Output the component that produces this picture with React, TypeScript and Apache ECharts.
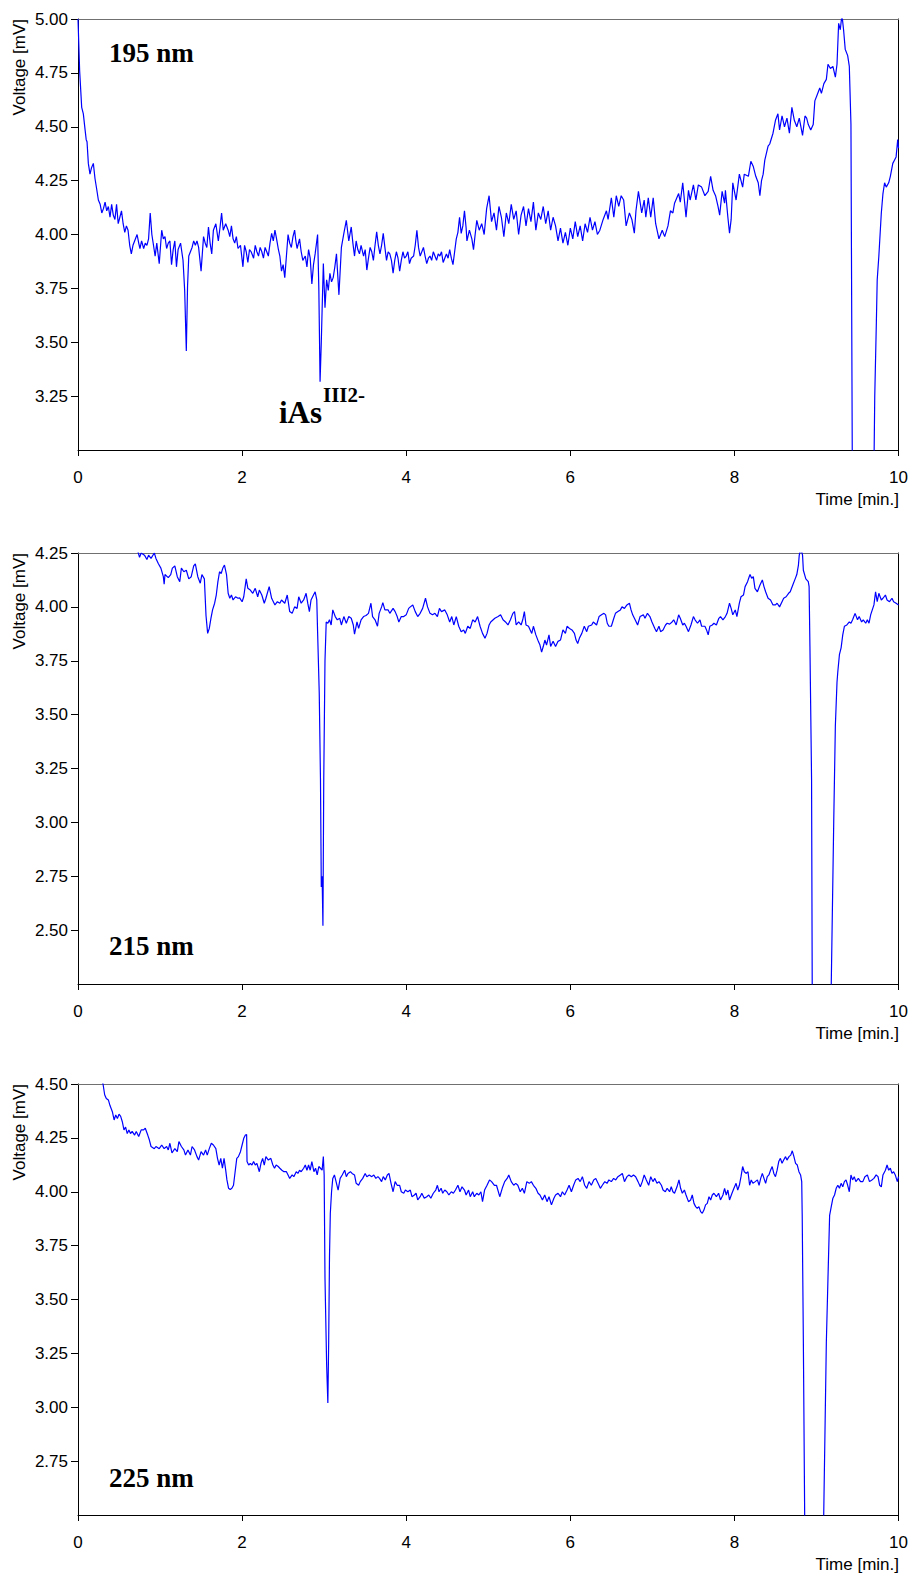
import React, { useEffect, useRef } from "react";
import * as echarts from "echarts";

// ---- Data (time [min], voltage [mV]) ----
const trace195: [number, number][] = [
  [0, 5.0], [0.02, 4.76], [0.045, 4.59], [0.065, 4.56], [0.085, 4.49], [0.1, 4.44], [0.11, 4.43], [0.126, 4.33],
  [0.146, 4.28], [0.165, 4.31], [0.187, 4.33], [0.207, 4.26], [0.228, 4.21], [0.248, 4.16], [0.27, 4.14], [0.29, 4.1],
  [0.31, 4.12], [0.33, 4.15], [0.35, 4.11], [0.37, 4.13], [0.39, 4.08], [0.41, 4.14], [0.43, 4.09], [0.45, 4.07],
  [0.47, 4.14], [0.49, 4.05], [0.51, 4.08], [0.53, 4.11], [0.55, 4.05], [0.57, 4.01], [0.59, 4.04], [0.61, 4.02],
  [0.63, 3.95], [0.65, 3.91], [0.67, 3.95], [0.69, 3.97], [0.72, 4.0], [0.74, 3.96], [0.755, 3.935], [0.775, 3.97],
  [0.8, 3.935], [0.82, 3.96], [0.84, 3.95], [0.86, 3.98], [0.88, 4.1], [0.9, 4.0], [0.92, 3.95], [0.94, 3.9],
  [0.96, 3.96], [0.99, 3.865], [1.02, 4.02], [1.04, 3.98], [1.06, 3.99], [1.08, 3.935], [1.1, 3.96], [1.12, 3.97],
  [1.14, 3.86], [1.16, 3.93], [1.18, 3.97], [1.2, 3.85], [1.22, 3.93], [1.25, 3.96], [1.28, 3.88], [1.3, 3.74],
  [1.32, 3.46], [1.335, 3.76], [1.35, 3.9], [1.37, 3.92], [1.39, 3.94], [1.41, 3.97], [1.43, 3.95], [1.45, 3.97],
  [1.47, 3.94], [1.5, 3.83], [1.53, 3.99], [1.55, 3.96], [1.57, 3.94], [1.59, 4.035], [1.61, 3.96], [1.63, 3.91],
  [1.65, 4.02], [1.68, 4.05], [1.71, 3.97], [1.73, 4.03], [1.75, 4.1], [1.77, 4.02], [1.8, 4.05], [1.83, 4.02],
  [1.85, 3.99], [1.87, 4.04], [1.89, 3.98], [1.91, 3.96], [1.93, 3.99], [1.95, 3.935], [1.98, 3.95], [2.01, 3.85],
  [2.03, 3.95], [2.05, 3.92], [2.07, 3.87], [2.09, 3.93], [2.11, 3.92], [2.14, 3.89], [2.16, 3.95], [2.18, 3.92],
  [2.2, 3.9], [2.22, 3.94], [2.24, 3.92], [2.26, 3.89], [2.28, 3.94], [2.3, 3.92], [2.32, 3.9], [2.34, 3.96],
  [2.36, 4.005], [2.38, 3.97], [2.4, 4.02], [2.42, 3.98], [2.44, 3.935], [2.46, 3.9], [2.48, 3.83], [2.5, 3.86],
  [2.52, 3.8], [2.54, 3.9], [2.56, 4.0], [2.58, 3.96], [2.6, 3.94], [2.62, 3.99], [2.64, 4.02], [2.655, 3.97],
  [2.67, 3.935], [2.7, 3.98], [2.72, 3.92], [2.74, 3.88], [2.77, 3.9], [2.79, 3.85], [2.81, 3.93], [2.83, 3.89],
  [2.85, 3.77], [2.87, 3.86], [2.89, 3.91], [2.92, 4.0], [2.935, 3.75], [2.95, 3.317], [2.965, 3.5], [2.975, 3.65],
  [2.99, 3.865], [3.01, 3.66], [3.03, 3.79], [3.05, 3.74], [3.07, 3.82], [3.09, 3.78], [3.11, 3.8], [3.13, 3.85],
  [3.15, 3.91], [3.18, 3.72], [3.21, 3.94], [3.24, 4.005], [3.27, 4.066], [3.3, 3.97], [3.33, 4.035], [3.35, 3.96],
  [3.37, 3.9], [3.39, 3.97], [3.41, 3.93], [3.43, 3.91], [3.45, 3.95], [3.48, 3.9], [3.5, 3.93], [3.52, 3.835],
  [3.54, 3.89], [3.56, 3.94], [3.58, 3.92], [3.6, 3.88], [3.62, 3.95], [3.64, 4.012], [3.66, 3.95], [3.68, 3.91],
  [3.7, 3.95], [3.72, 4.005], [3.74, 3.94], [3.76, 3.88], [3.78, 3.92], [3.8, 3.91], [3.82, 3.88], [3.84, 3.82],
  [3.86, 3.88], [3.88, 3.92], [3.9, 3.89], [3.92, 3.83], [3.94, 3.88], [3.96, 3.92], [3.98, 3.89], [4.0, 3.9],
  [4.02, 3.92], [4.04, 3.865], [4.06, 3.89], [4.09, 3.9], [4.11, 3.95], [4.13, 4.02], [4.15, 3.94], [4.17, 3.9],
  [4.19, 3.92], [4.21, 3.94], [4.23, 3.9], [4.25, 3.865], [4.27, 3.89], [4.29, 3.9], [4.31, 3.88], [4.33, 3.92],
  [4.35, 3.9], [4.37, 3.88], [4.39, 3.91], [4.41, 3.9], [4.43, 3.92], [4.45, 3.87], [4.47, 3.89], [4.49, 3.91],
  [4.51, 3.89], [4.53, 3.93], [4.55, 3.89], [4.57, 3.86], [4.59, 3.92], [4.61, 3.98], [4.63, 4.01], [4.65, 4.08],
  [4.67, 4.005], [4.69, 4.04], [4.71, 4.11], [4.73, 4.03], [4.74, 3.97], [4.77, 4.02], [4.8, 3.98], [4.82, 3.93],
  [4.84, 4.0], [4.86, 4.066], [4.89, 4.02], [4.92, 4.05], [4.95, 4.0], [4.98, 4.12], [5.01, 4.18], [5.04, 4.06],
  [5.07, 4.1], [5.1, 4.02], [5.13, 4.13], [5.16, 4.08], [5.19, 3.99], [5.22, 4.1], [5.25, 4.05], [5.28, 4.14],
  [5.31, 4.07], [5.34, 4.11], [5.37, 4.0], [5.4, 4.09], [5.43, 4.13], [5.46, 4.04], [5.49, 4.12], [5.52, 4.06],
  [5.55, 4.15], [5.58, 4.02], [5.61, 4.1], [5.64, 4.07], [5.67, 4.13], [5.7, 4.05], [5.73, 4.11], [5.76, 4.02],
  [5.79, 4.08], [5.82, 4.04], [5.85, 3.97], [5.88, 4.03], [5.91, 3.96], [5.94, 4.01], [5.97, 3.95], [6.0, 4.03],
  [6.03, 3.98], [6.06, 4.06], [6.09, 3.99], [6.12, 4.04], [6.15, 3.97], [6.18, 4.05], [6.21, 4.01], [6.24, 4.08],
  [6.27, 4.02], [6.3, 4.06], [6.33, 4.0], [6.36, 4.02], [6.4, 4.07], [6.44, 4.11], [6.46, 4.07], [6.5, 4.17],
  [6.53, 4.08], [6.56, 4.18], [6.59, 4.13], [6.62, 4.18], [6.65, 4.16], [6.68, 4.04], [6.72, 4.1], [6.75, 4.07],
  [6.78, 4.006], [6.8, 4.11], [6.83, 4.2], [6.87, 4.1], [6.9, 4.16], [6.92, 4.08], [6.95, 4.17], [6.98, 4.08],
  [7.01, 4.17], [7.04, 4.05], [7.08, 3.98], [7.12, 4.02], [7.15, 3.99], [7.19, 4.04], [7.22, 4.11], [7.25, 4.1],
  [7.27, 4.145], [7.32, 4.19], [7.34, 4.15], [7.37, 4.24], [7.41, 4.08], [7.44, 4.205], [7.46, 4.16], [7.5, 4.23],
  [7.53, 4.16], [7.56, 4.23], [7.6, 4.22], [7.64, 4.18], [7.68, 4.2], [7.71, 4.27], [7.74, 4.205], [7.77, 4.18],
  [7.8, 4.13], [7.82, 4.09], [7.85, 4.2], [7.88, 4.145], [7.89, 4.205], [7.92, 4.08], [7.94, 4.006], [7.96, 4.07],
  [7.98, 4.24], [8.02, 4.16], [8.06, 4.28], [8.1, 4.22], [8.12, 4.28], [8.17, 4.27], [8.2, 4.34], [8.23, 4.315],
  [8.26, 4.27], [8.29, 4.24], [8.31, 4.18], [8.33, 4.25], [8.35, 4.28], [8.37, 4.345], [8.41, 4.41], [8.43, 4.42],
  [8.47, 4.47], [8.5, 4.53], [8.53, 4.56], [8.55, 4.485], [8.58, 4.55], [8.61, 4.5], [8.64, 4.54], [8.67, 4.47],
  [8.7, 4.59], [8.73, 4.53], [8.76, 4.5], [8.79, 4.54], [8.83, 4.46], [8.86, 4.55], [8.88, 4.54], [8.9, 4.51],
  [8.93, 4.485], [8.96, 4.51], [8.98, 4.62], [9.01, 4.65], [9.04, 4.68], [9.06, 4.655], [9.09, 4.7], [9.12, 4.72],
  [9.14, 4.79], [9.17, 4.77], [9.2, 4.78], [9.23, 4.73], [9.25, 4.79], [9.27, 4.98], [9.29, 4.95], [9.31, 5.02],
  [9.33, 4.95], [9.35, 4.86], [9.38, 4.83], [9.4, 4.78], [9.42, 4.51], [9.44, 2.6], [9.68, 2.6], [9.7, 2.9],
  [9.71, 3.25], [9.73, 3.6], [9.74, 3.79], [9.76, 3.9], [9.79, 4.1], [9.81, 4.19], [9.83, 4.24], [9.85, 4.22],
  [9.88, 4.24], [9.9, 4.27], [9.93, 4.33], [9.95, 4.345], [9.97, 4.36], [9.99, 4.44], [10.0, 4.4],
];

const trace215: [number, number][] = [
  [0, 4.8], [0.2, 4.6], [0.4, 4.45], [0.6, 4.33], [0.72, 4.27], [0.75, 4.23], [0.77, 4.25], [0.81, 4.24],
  [0.84, 4.22], [0.86, 4.24], [0.89, 4.225], [0.93, 4.25], [0.95, 4.225], [0.98, 4.2], [1.01, 4.18], [1.04, 4.14],
  [1.05, 4.105], [1.06, 4.15], [1.1, 4.136], [1.13, 4.15], [1.15, 4.18], [1.18, 4.19], [1.21, 4.14], [1.24, 4.117],
  [1.26, 4.18], [1.29, 4.163], [1.32, 4.17], [1.35, 4.13], [1.38, 4.14], [1.41, 4.19], [1.43, 4.2], [1.46, 4.14],
  [1.49, 4.11], [1.51, 4.15], [1.54, 4.13], [1.56, 3.96], [1.58, 3.877], [1.6, 3.9], [1.62, 3.947], [1.64, 3.986],
  [1.665, 4.017], [1.685, 4.055], [1.705, 4.117], [1.725, 4.163], [1.745, 4.155], [1.765, 4.18], [1.785, 4.194], [1.81, 4.15],
  [1.83, 4.063], [1.85, 4.04], [1.87, 4.055], [1.89, 4.032], [1.92, 4.047], [1.95, 4.04], [1.97, 4.042], [2.0, 4.024],
  [2.02, 4.047], [2.05, 4.13], [2.07, 4.086], [2.1, 4.078], [2.13, 4.063], [2.16, 4.086], [2.19, 4.047], [2.21, 4.078],
  [2.24, 4.055], [2.27, 4.017], [2.29, 4.04], [2.33, 4.094], [2.36, 4.04], [2.4, 4.009], [2.43, 4.024], [2.46, 4.017],
  [2.48, 4.032], [2.52, 4.017], [2.55, 4.055], [2.58, 3.978], [2.61, 3.97], [2.64, 4.0], [2.67, 3.993], [2.69, 4.047],
  [2.72, 4.017], [2.75, 4.032], [2.78, 4.063], [2.8, 4.017], [2.82, 3.978], [2.84, 4.032], [2.87, 4.055], [2.89, 4.07],
  [2.91, 4.032], [2.92, 3.885], [2.94, 3.6], [2.955, 3.2], [2.965, 2.7], [2.975, 2.75], [2.985, 2.52], [2.995, 3.2],
  [3.01, 3.75], [3.025, 3.93], [3.045, 3.924], [3.065, 3.94], [3.085, 3.916], [3.105, 3.986], [3.135, 3.955], [3.16, 3.94],
  [3.19, 3.947], [3.21, 3.916], [3.24, 3.955], [3.27, 3.924], [3.3, 3.955], [3.33, 3.947], [3.355, 3.916], [3.37, 3.873],
  [3.4, 3.93], [3.42, 3.9], [3.45, 3.94], [3.48, 3.955], [3.51, 3.96], [3.54, 3.97], [3.57, 4.017], [3.59, 3.955],
  [3.62, 3.94], [3.65, 3.91], [3.67, 3.97], [3.7, 4.0], [3.715, 4.02], [3.74, 3.986], [3.78, 3.986], [3.8, 3.97],
  [3.84, 3.993], [3.865, 3.978], [3.89, 3.955], [3.91, 3.93], [3.94, 3.955], [3.97, 3.955], [4.0, 3.963], [4.03, 3.993],
  [4.05, 4.0], [4.08, 4.009], [4.11, 3.978], [4.14, 3.955], [4.17, 3.97], [4.2, 3.993], [4.235, 4.04], [4.26, 4.0],
  [4.29, 3.97], [4.32, 3.963], [4.35, 3.97], [4.38, 3.955], [4.405, 3.993], [4.43, 3.978], [4.47, 3.986], [4.5, 3.963],
  [4.53, 3.93], [4.555, 3.955], [4.58, 3.916], [4.61, 3.955], [4.64, 3.91], [4.67, 3.885], [4.7, 3.893], [4.72, 3.877],
  [4.75, 3.91], [4.78, 3.9], [4.81, 3.94], [4.84, 3.93], [4.87, 3.955], [4.9, 3.91], [4.93, 3.877], [4.96, 3.854],
  [4.985, 3.877], [5.01, 3.916], [5.03, 3.93], [5.08, 3.947], [5.12, 3.955], [5.15, 3.963], [5.18, 3.94], [5.21, 3.93],
  [5.24, 3.916], [5.27, 3.94], [5.3, 3.97], [5.32, 3.978], [5.34, 3.916], [5.37, 3.93], [5.4, 3.916], [5.42, 3.94],
  [5.44, 3.978], [5.46, 3.916], [5.49, 3.91], [5.53, 3.877], [5.55, 3.91], [5.58, 3.87], [5.61, 3.84], [5.63, 3.823],
  [5.65, 3.79], [5.67, 3.816], [5.69, 3.846], [5.71, 3.823], [5.74, 3.87], [5.76, 3.816], [5.79, 3.84], [5.82, 3.816],
  [5.85, 3.84], [5.88, 3.846], [5.91, 3.893], [5.94, 3.877], [5.96, 3.91], [5.99, 3.9], [6.02, 3.893], [6.05, 3.877],
  [6.07, 3.846], [6.09, 3.83], [6.11, 3.854], [6.14, 3.877], [6.17, 3.91], [6.2, 3.885], [6.22, 3.91], [6.26, 3.916],
  [6.28, 3.93], [6.32, 3.916], [6.35, 3.955], [6.38, 3.963], [6.41, 3.97], [6.43, 3.963], [6.45, 3.924], [6.47, 3.91],
  [6.5, 3.91], [6.53, 3.947], [6.55, 3.97], [6.58, 3.978], [6.61, 3.986], [6.63, 4.0], [6.66, 3.993], [6.69, 4.009],
  [6.72, 4.017], [6.74, 3.986], [6.76, 3.963], [6.79, 3.94], [6.82, 3.916], [6.85, 3.955], [6.89, 3.963], [6.91, 3.947],
  [6.94, 3.97], [6.97, 3.955], [6.995, 3.93], [7.03, 3.9], [7.05, 3.885], [7.08, 3.91], [7.1, 3.885], [7.13, 3.893],
  [7.16, 3.916], [7.18, 3.924], [7.21, 3.92], [7.24, 3.93], [7.26, 3.94], [7.29, 3.916], [7.32, 3.963], [7.34, 3.947],
  [7.37, 3.916], [7.39, 3.924], [7.41, 3.91], [7.44, 3.885], [7.47, 3.916], [7.5, 3.955], [7.52, 3.94], [7.55, 3.924],
  [7.58, 3.94], [7.6, 3.91], [7.64, 3.91], [7.66, 3.893], [7.68, 3.87], [7.7, 3.91], [7.73, 3.916], [7.75, 3.924],
  [7.78, 3.916], [7.81, 3.947], [7.83, 3.955], [7.86, 3.94], [7.89, 3.955], [7.91, 3.97], [7.94, 4.017], [7.96, 3.993],
  [7.98, 3.963], [8.01, 3.986], [8.03, 3.955], [8.06, 4.017], [8.08, 4.047], [8.11, 4.055], [8.13, 4.094], [8.16, 4.117],
  [8.18, 4.14], [8.19, 4.15], [8.21, 4.133], [8.23, 4.14], [8.25, 4.086], [8.28, 4.07], [8.31, 4.1], [8.34, 4.125],
  [8.36, 4.094], [8.38, 4.07], [8.41, 4.04], [8.44, 4.032], [8.47, 4.009], [8.5, 4.009], [8.52, 4.017], [8.55, 4.0],
  [8.58, 4.024], [8.6, 4.04], [8.63, 4.047], [8.66, 4.063], [8.68, 4.07], [8.71, 4.1], [8.74, 4.13], [8.76, 4.15],
  [8.78, 4.194], [8.79, 4.24], [8.81, 4.27], [8.83, 4.24], [8.84, 4.17], [8.87, 4.13], [8.9, 4.117], [8.91, 4.094],
  [8.92, 3.82], [8.94, 3.2], [8.95, 2.0], [9.17, 2.0], [9.19, 2.5], [9.21, 3.0], [9.23, 3.45], [9.25, 3.65],
  [9.26, 3.7], [9.28, 3.78], [9.3, 3.81], [9.32, 3.87], [9.34, 3.91], [9.37, 3.916], [9.4, 3.93], [9.42, 3.924],
  [9.44, 3.94], [9.47, 3.97], [9.5, 3.94], [9.52, 3.955], [9.55, 3.93], [9.57, 3.94], [9.6, 3.924], [9.62, 3.94],
  [9.64, 3.924], [9.66, 3.963], [9.68, 3.986], [9.7, 4.009], [9.72, 4.07], [9.74, 4.024], [9.76, 4.063], [9.79, 4.032],
  [9.81, 4.04], [9.84, 4.055], [9.86, 4.032], [9.89, 4.024], [9.92, 4.04], [9.94, 4.024], [9.97, 4.017], [10.0, 4.009],
];

const trace225: [number, number][] = [
  [0, 4.85], [0.15, 4.66], [0.28, 4.53], [0.305, 4.5], [0.325, 4.45], [0.345, 4.433], [0.37, 4.426], [0.39, 4.4],
  [0.42, 4.37], [0.44, 4.333], [0.46, 4.356], [0.48, 4.34], [0.5, 4.36], [0.52, 4.35], [0.54, 4.325], [0.56, 4.287],
  [0.58, 4.3], [0.6, 4.27], [0.62, 4.287], [0.64, 4.27], [0.66, 4.28], [0.69, 4.263], [0.71, 4.28], [0.74, 4.256],
  [0.77, 4.287], [0.8, 4.287], [0.82, 4.295], [0.85, 4.263], [0.87, 4.24], [0.89, 4.21], [0.93, 4.2], [0.95, 4.21],
  [0.99, 4.2], [1.02, 4.217], [1.05, 4.2], [1.08, 4.21], [1.1, 4.194], [1.12, 4.225], [1.145, 4.18], [1.18, 4.2],
  [1.21, 4.186], [1.23, 4.233], [1.26, 4.21], [1.29, 4.194], [1.31, 4.17], [1.34, 4.194], [1.37, 4.17], [1.39, 4.21],
  [1.42, 4.194], [1.45, 4.163], [1.47, 4.147], [1.5, 4.186], [1.53, 4.17], [1.555, 4.194], [1.575, 4.17], [1.6, 4.2],
  [1.625, 4.225], [1.65, 4.217], [1.68, 4.2], [1.7, 4.155], [1.72, 4.124], [1.74, 4.155], [1.76, 4.109], [1.78, 4.155],
  [1.8, 4.1], [1.815, 4.055], [1.835, 4.016], [1.855, 4.01], [1.875, 4.016], [1.895, 4.03], [1.915, 4.093], [1.935, 4.155],
  [1.955, 4.163], [1.98, 4.186], [2.0, 4.217], [2.02, 4.248], [2.04, 4.263], [2.055, 4.266], [2.06, 4.14], [2.08, 4.124],
  [2.1, 4.132], [2.12, 4.124], [2.14, 4.14], [2.16, 4.124], [2.18, 4.132], [2.21, 4.093], [2.23, 4.132], [2.25, 4.155],
  [2.27, 4.124], [2.29, 4.163], [2.32, 4.147], [2.35, 4.155], [2.375, 4.124], [2.395, 4.109], [2.415, 4.124], [2.44, 4.117],
  [2.46, 4.109], [2.485, 4.1], [2.51, 4.093], [2.54, 4.093], [2.56, 4.078], [2.58, 4.062], [2.61, 4.078], [2.63, 4.07],
  [2.66, 4.093], [2.68, 4.085], [2.7, 4.1], [2.72, 4.093], [2.75, 4.109], [2.77, 4.124], [2.79, 4.1], [2.81, 4.124],
  [2.83, 4.1], [2.85, 4.14], [2.875, 4.093], [2.895, 4.109], [2.915, 4.078], [2.935, 4.117], [2.955, 4.109], [2.975, 4.1],
  [2.99, 4.163], [3.0, 4.078], [3.01, 3.6], [3.03, 3.2], [3.045, 3.02], [3.055, 3.3], [3.065, 3.7], [3.075, 3.9],
  [3.09, 4.0], [3.105, 4.062], [3.125, 4.078], [3.145, 4.047], [3.17, 4.008], [3.195, 4.062], [3.22, 4.078], [3.25, 4.1],
  [3.27, 4.07], [3.29, 4.085], [3.32, 4.093], [3.34, 4.085], [3.37, 4.078], [3.39, 4.039], [3.42, 4.03], [3.44, 4.047],
  [3.47, 4.062], [3.5, 4.085], [3.52, 4.07], [3.55, 4.078], [3.58, 4.07], [3.605, 4.078], [3.63, 4.062], [3.655, 4.07],
  [3.675, 4.062], [3.7, 4.047], [3.72, 4.07], [3.745, 4.055], [3.77, 4.078], [3.79, 4.085], [3.815, 4.039], [3.84, 4.0],
  [3.865, 4.047], [3.89, 4.03], [3.92, 4.03], [3.94, 4.0], [3.97, 3.993], [3.99, 4.008], [4.02, 4.0], [4.05, 4.008],
  [4.07, 3.977], [4.1, 3.985], [4.12, 3.993], [4.14, 3.962], [4.17, 3.977], [4.19, 3.993], [4.22, 3.97], [4.25, 3.977],
  [4.275, 3.985], [4.3, 3.97], [4.33, 3.993], [4.36, 4.008], [4.38, 4.03], [4.4, 4.0], [4.425, 4.016], [4.445, 3.993],
  [4.47, 4.008], [4.495, 4.0], [4.52, 3.985], [4.55, 4.0], [4.575, 3.993], [4.6, 4.008], [4.63, 4.03], [4.655, 4.0],
  [4.68, 4.023], [4.71, 4.008], [4.73, 3.985], [4.76, 4.008], [4.78, 3.977], [4.81, 4.0], [4.83, 3.977], [4.86, 3.993],
  [4.885, 3.985], [4.91, 4.0], [4.93, 3.954], [4.955, 4.008], [4.985, 4.03], [5.015, 4.055], [5.04, 4.047], [5.075, 4.03],
  [5.1, 4.03], [5.14, 3.977], [5.17, 4.016], [5.2, 4.047], [5.23, 4.062], [5.25, 4.078], [5.28, 4.047], [5.31, 4.03],
  [5.335, 4.039], [5.36, 4.03], [5.39, 4.0], [5.415, 4.016], [5.44, 3.993], [5.47, 4.047], [5.5, 4.039], [5.525, 4.047],
  [5.55, 4.03], [5.58, 4.016], [5.607, 3.993], [5.63, 3.985], [5.66, 3.962], [5.688, 3.985], [5.716, 3.954], [5.74, 3.977],
  [5.77, 3.939], [5.8, 3.97], [5.82, 3.985], [5.85, 3.993], [5.88, 3.977], [5.903, 4.0], [5.93, 3.985], [5.96, 4.008],
  [5.985, 4.03], [6.013, 4.0], [6.04, 4.03], [6.066, 4.055], [6.094, 4.062], [6.12, 4.047], [6.147, 4.07], [6.175, 4.03],
  [6.2, 4.016], [6.228, 4.047], [6.256, 4.03], [6.285, 4.055], [6.31, 4.062], [6.338, 4.039], [6.366, 4.016], [6.39, 4.03],
  [6.42, 4.047], [6.447, 4.039], [6.47, 4.055], [6.5, 4.047], [6.528, 4.062], [6.553, 4.055], [6.58, 4.07], [6.61, 4.078],
  [6.634, 4.085], [6.66, 4.047], [6.69, 4.07], [6.715, 4.078], [6.743, 4.07], [6.77, 4.078], [6.796, 4.07], [6.825, 4.047],
  [6.853, 4.023], [6.877, 4.047], [6.9, 4.078], [6.926, 4.055], [6.955, 4.03], [6.98, 4.07], [7.007, 4.047], [7.03, 4.062],
  [7.056, 4.039], [7.08, 4.047], [7.11, 4.03], [7.13, 4.008], [7.158, 4.0], [7.18, 4.016], [7.21, 4.0], [7.23, 4.023],
  [7.25, 4.0], [7.27, 3.993], [7.3, 4.023], [7.324, 4.055], [7.344, 4.016], [7.365, 3.993], [7.39, 4.008], [7.41, 3.985],
  [7.44, 3.954], [7.466, 3.962], [7.486, 3.985], [7.507, 3.946], [7.527, 3.931], [7.547, 3.923], [7.567, 3.931], [7.588, 3.908],
  [7.608, 3.9], [7.628, 3.915], [7.648, 3.939], [7.669, 3.946], [7.69, 3.977], [7.71, 3.962], [7.73, 3.985], [7.75, 3.993],
  [7.78, 3.977], [7.807, 3.993], [7.83, 3.962], [7.86, 3.985], [7.88, 4.016], [7.9, 3.985], [7.92, 4.008], [7.94, 3.962],
  [7.97, 3.993], [7.994, 4.016], [8.02, 4.039], [8.04, 4.008], [8.06, 4.03], [8.08, 4.07], [8.1, 4.117], [8.12, 4.093],
  [8.145, 4.085], [8.165, 4.093], [8.185, 4.03], [8.205, 4.055], [8.225, 4.039], [8.254, 4.047], [8.28, 4.055], [8.3, 4.03],
  [8.32, 4.062], [8.34, 4.085], [8.36, 4.062], [8.38, 4.039], [8.4, 4.07], [8.42, 4.078], [8.44, 4.1], [8.46, 4.117],
  [8.48, 4.085], [8.5, 4.07], [8.52, 4.1], [8.54, 4.14], [8.56, 4.155], [8.58, 4.132], [8.6, 4.147], [8.623, 4.163],
  [8.64, 4.147], [8.665, 4.163], [8.686, 4.17], [8.705, 4.19], [8.725, 4.163], [8.745, 4.132], [8.766, 4.124], [8.786, 4.093],
  [8.806, 4.078], [8.82, 4.047], [8.826, 3.89], [8.84, 3.3], [8.86, 2.3], [9.08, 2.3], [9.1, 2.8], [9.12, 3.3],
  [9.14, 3.6], [9.16, 3.89], [9.18, 3.931], [9.2, 3.97], [9.22, 3.985], [9.24, 4.016], [9.26, 4.03], [9.28, 4.016],
  [9.3, 4.039], [9.32, 4.023], [9.34, 4.047], [9.36, 4.055], [9.38, 4.03], [9.4, 4.0], [9.42, 4.078], [9.44, 4.055],
  [9.46, 4.07], [9.48, 4.047], [9.51, 4.062], [9.537, 4.047], [9.565, 4.047], [9.59, 4.07], [9.62, 4.078], [9.646, 4.047],
  [9.675, 4.055], [9.7, 4.062], [9.727, 4.078], [9.75, 4.07], [9.77, 4.03], [9.79, 4.023], [9.81, 4.078], [9.84, 4.1],
  [9.86, 4.124], [9.88, 4.1], [9.9, 4.109], [9.92, 4.085], [9.94, 4.093], [9.96, 4.078], [9.985, 4.047], [10.0, 4.07],
];

const traces = [trace195, trace215, trace225];
const wavelengthLabels = ["195 nm", "215 nm", "225 nm"];
const yMins = [3.0, 2.25, 2.5];
const yMaxs = [5.0, 4.25, 4.5];
const xMin = 0;
const xMax = 10;
const xInterval = 2;
const yInterval = 0.25;
const xAxisTitle = "Time [min.]";
const yAxisTitle = "Voltage [mV]";
const peakLabelMain = "iAs";
const peakLabelSup = "III2-";

// ---- Layout ----
const GRID_LEFT = 78;
const GRID_WIDTH = 821;
const GRID_HEIGHT = 431;
const GRID_TOPS = [19, 553, 1084];
const WL_LABEL_Y = [53, 946, 1478];

const SANS = "'Liberation Sans', Arial, sans-serif";
const SERIF = "'Liberation Serif', 'Times New Roman', serif";

export default function App() {
  const ref = useRef<HTMLDivElement>(null);

  useEffect(() => {
    if (!ref.current) return;
    const chart = echarts.init(ref.current, undefined, { renderer: "svg" });

    const grid = GRID_TOPS.map((top) => ({
      left: GRID_LEFT,
      top,
      width: GRID_WIDTH,
      height: GRID_HEIGHT,
      containLabel: false,
    }));

    const bottomX = GRID_TOPS.map((_, i) => ({
      type: "value",
      gridIndex: i,
      min: xMin,
      max: xMax,
      interval: xInterval,
      position: "bottom",
      axisLine: { show: true, onZero: false, lineStyle: { color: "#000", width: 1 } },
      axisTick: { show: true, inside: false, length: 6, lineStyle: { color: "#000" } },
      axisLabel: { show: true, color: "#000", fontSize: 17, fontFamily: SANS, margin: 19 },
      splitLine: { show: false },
    }));
    const topX = GRID_TOPS.map((_, i) => ({
      type: "value",
      gridIndex: i,
      min: xMin,
      max: xMax,
      interval: xInterval,
      position: "top",
      axisLine: { show: true, onZero: false, lineStyle: { color: "#707070", width: 1 } },
      axisTick: { show: false },
      axisLabel: { show: false },
      splitLine: { show: false },
    }));
    const leftY = GRID_TOPS.map((_, i) => ({
      type: "value",
      gridIndex: i,
      min: yMins[i],
      max: yMaxs[i],
      interval: yInterval,
      position: "left",
      axisLine: { show: true, onZero: false, lineStyle: { color: "#000", width: 1 } },
      axisTick: { show: true, inside: false, length: 7, lineStyle: { color: "#000" } },
      axisLabel: {
        show: true,
        color: "#000",
        fontSize: 17,
        fontFamily: SANS,
        margin: 10,
        showMinLabel: false,
        formatter: (v: number) => v.toFixed(2),
      },
      splitLine: { show: false },
    }));
    const rightY = GRID_TOPS.map((_, i) => ({
      type: "value",
      gridIndex: i,
      min: yMins[i],
      max: yMaxs[i],
      interval: yInterval,
      position: "right",
      axisLine: { show: true, onZero: false, lineStyle: { color: "#000", width: 1 } },
      axisTick: { show: false },
      axisLabel: { show: false },
      splitLine: { show: false },
    }));

    const series = traces.map((data, i) => ({
      type: "line",
      xAxisIndex: i,
      yAxisIndex: i,
      data,
      showSymbol: false,
      symbol: "none",
      clip: true,
      lineStyle: { color: "#0000ff", width: 1.2 },
      silent: true,
    }));

    const graphics: any[] = [];
    GRID_TOPS.forEach((top, i) => {
      graphics.push({
        type: "text",
        x: 19,
        y: top,
        rotation: Math.PI / 2,
        style: {
          text: yAxisTitle,
          fontSize: 17,
          fontFamily: SANS,
          fill: "#000",
          align: "right",
          verticalAlign: "middle",
        },
      });
      graphics.push({
        type: "text",
        x: GRID_LEFT + GRID_WIDTH,
        y: top + GRID_HEIGHT + 49,
        style: {
          text: xAxisTitle,
          fontSize: 17,
          fontFamily: SANS,
          fill: "#000",
          align: "right",
          verticalAlign: "middle",
        },
      });
      graphics.push({
        type: "text",
        x: 109,
        y: WL_LABEL_Y[i],
        style: {
          text: wavelengthLabels[i],
          fontSize: 27,
          fontWeight: "bold",
          fontFamily: SERIF,
          fill: "#000",
          align: "left",
          verticalAlign: "middle",
        },
      });
    });
    graphics.push({
      type: "text",
      x: 279,
      y: 412,
      style: {
        text: peakLabelMain,
        fontSize: 31,
        fontWeight: "bold",
        fontFamily: SERIF,
        fill: "#000",
        align: "left",
        verticalAlign: "middle",
      },
    });
    graphics.push({
      type: "text",
      x: 323,
      y: 395,
      style: {
        text: peakLabelSup,
        fontSize: 21,
        fontWeight: "bold",
        fontFamily: SERIF,
        fill: "#000",
        align: "left",
        verticalAlign: "middle",
      },
    });

    chart.setOption({
      animation: false,
      backgroundColor: "#fff",
      grid,
      xAxis: [...bottomX, ...topX],
      yAxis: [...leftY, ...rightY],
      series,
      graphic: graphics,
    });

    return () => chart.dispose();
  }, []);

  return (
    <div
      ref={ref}
      style={{ position: "absolute", left: 0, top: 0, width: 911, height: 1576 }}
    />
  );
}
